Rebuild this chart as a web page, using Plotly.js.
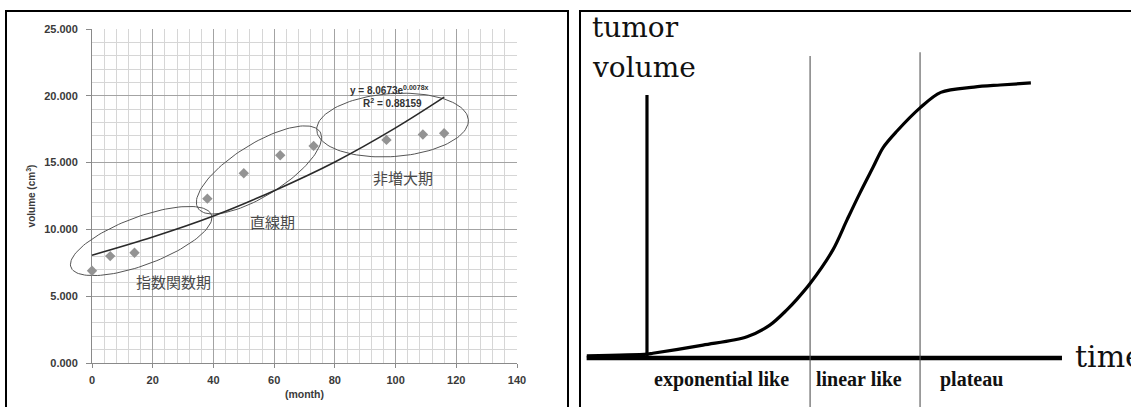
<!DOCTYPE html>
<html>
<head>
<meta charset="utf-8">
<script src="https://cdn.plot.ly/plotly-3.0.1.min.js"></script>
<style>
  html, body { margin: 0; padding: 0; background: #fff; }
  #chart { width: 1131px; height: 407px; }
</style>
</head>
<body>
<div id="chart"></div>
<script>
// ---------- Left panel data (volume vs month) ----------
const months = [0, 6, 14, 38, 50, 62, 73, 97, 109, 116];
const volumes = [6.9, 8.0, 8.25, 12.3, 14.2, 15.55, 16.25, 16.7, 17.1, 17.2];
// exponential trendline
const trendMonths = [0, 20, 40, 60, 80, 100, 116];
const trendVolumes = [8.07, 9.43, 11.0, 12.9, 15.05, 17.6, 19.9];
const phaseLabelsJa = ['指数関数期', '直線期', '非増大期'];
const equationText = 'y = 8.0673e<sup>0.0078x</sup>';
const r2Text = 'R<sup>2</sup> = 0.88159';

// ---------- Right panel data (schematic growth curve) ----------
const curveTime = [-14.5, 0, 1.4, 13.5, 24.1, 29.6, 33.7, 36.1, 39.3, 44.8, 48.2, 51.3, 54.5, 56.9, 60.2, 65.8, 70.8, 78.8, 85.1, 92.5];
const curveVolume = [0.8, 1.5, 1.8, 4.9, 8.1, 12.5, 18.3, 22.3, 28.3, 41.1, 52.5, 62.7, 72.6, 80.0, 86.2, 95.1, 101.0, 103.0, 103.8, 104.6];
const phaseBoundaries = [39.3, 65.8];
const boundaryTops = [114.8, 116.3];
const phaseNames = ['exponential like', 'linear like', 'plateau'];

// ---------- Layout geometry ----------
const W = 1131, H = 407;
const leftDomX = [92 / W, 517 / W];
const leftDomY = [(H - 363) / H, (H - 29) / H];
const xRange = [0, 140], yRange = [0, 25];
const rightDomX = [580 / W, 1];
const x2Range = [-16.14, 116.63], y2Range = [-18.63, 136.12];

// pixel scale of the left plot
const sx = (leftDomX[1] - leftDomX[0]) * W / (xRange[1] - xRange[0]);
const sy = (leftDomY[1] - leftDomY[0]) * H / (yRange[1] - yRange[0]);
// overlay axes spanning the whole left panel, same data scale (so marks near edges are not clipped)
const panelLeft = 6, panelRight = 568, panelTop = 11;
const x3Dom = [panelLeft / W, panelRight / W];
const y3Dom = [0, (H - panelTop) / H];
const x3Range = [(panelLeft - 92) / sx, (panelRight - 92) / sx];
const y3Range = [(363 - H) / sy, (363 - panelTop) / sy];

// ellipse outlines: centre in data units, semi-axes in px, tilt in degrees
const ellipses = [
  {cx: 16.2, cy: 9.13, a: 75, b: 24, ang: 20.5},
  {cx: 55.0, cy: 14.45, a: 72, b: 26, ang: 32},
  {cx: 99.0, cy: 17.81, a: 76, b: 31.5, ang: 4}
];
function ellipseTrace(e) {
  const xs = [], ys = [];
  const t = e.ang * Math.PI / 180;
  for (let i = 0; i <= 120; i++) {
    const p = 2 * Math.PI * i / 120;
    const dx = e.a * Math.cos(p) * Math.cos(t) - e.b * Math.sin(p) * Math.sin(t);
    const dy = e.a * Math.cos(p) * Math.sin(t) + e.b * Math.sin(p) * Math.cos(t);
    xs.push(e.cx + dx / sx);
    ys.push(e.cy + dy / sy);
  }
  return {x: xs, y: ys, type: 'scatter', mode: 'lines', xaxis: 'x3', yaxis: 'y3',
          line: {color: '#555', width: 1}, hoverinfo: 'skip', showlegend: false};
}

const traces = [];
ellipses.forEach(e => traces.push(ellipseTrace(e)));
traces.push({
  x: trendMonths, y: trendVolumes, type: 'scatter', mode: 'lines',
  line: {color: '#2a2a2a', width: 1.6, shape: 'spline'}, xaxis: 'x3', yaxis: 'y3', showlegend: false
});
traces.push({
  x: months, y: volumes, type: 'scatter', mode: 'markers',
  marker: {symbol: 'diamond', size: 8, color: '#939393'}, xaxis: 'x3', yaxis: 'y3', showlegend: false
});

// right panel
traces.push({x: [x2Range[0] + 1.6, 100], y: [0, 0], type: 'scatter', mode: 'lines',
  line: {color: '#000', width: 4.5}, xaxis: 'x2', yaxis: 'y2', showlegend: false, hoverinfo: 'skip'});
traces.push({x: [0, 0], y: [0, 100], type: 'scatter', mode: 'lines',
  line: {color: '#000', width: 3.2}, xaxis: 'x2', yaxis: 'y2', showlegend: false, hoverinfo: 'skip'});
phaseBoundaries.forEach((b, i) => traces.push({
  x: [b, b], y: [y2Range[0], boundaryTops[i]], type: 'scatter', mode: 'lines',
  line: {color: '#555', width: 1.1}, xaxis: 'x2', yaxis: 'y2', showlegend: false, hoverinfo: 'skip'}));
traces.push({x: curveTime, y: curveVolume, type: 'scatter', mode: 'lines',
  line: {color: '#000', width: 3.2, shape: 'spline', smoothing: 0.9}, xaxis: 'x2', yaxis: 'y2', showlegend: false});

const sans = 'Liberation Sans, Arial, sans-serif';
const tickFont = {family: sans, size: 11, color: '#3a3a3a', weight: 'bold'};
const jaFont = {family: 'Noto Sans CJK JP', size: 15, color: '#4a4a4a'};
const serif = 'Liberation Serif, Times New Roman, serif';
const bigSerif = 'DejaVu Serif, serif';

const phaseLabelPos = [[26.8, 6.09], [59.3, 10.58], [102.4, 13.85]];
const phaseNamePos = [18.0, 51.1, 78.2];

const annotations = [];
phaseLabelsJa.forEach((t, i) => annotations.push({
  x: phaseLabelPos[i][0], y: phaseLabelPos[i][1], xref: 'x', yref: 'y', text: t,
  showarrow: false, font: jaFont, xanchor: 'center', yanchor: 'middle'}));
annotations.push({x: 98.0, y: 20.4, xref: 'x', yref: 'y', text: equationText, showarrow: false,
  font: {family: sans, size: 10, color: '#333', weight: 'bold'}});
annotations.push({x: 99.0, y: 19.45, xref: 'x', yref: 'y', text: r2Text, showarrow: false,
  font: {family: sans, size: 10, color: '#333', weight: 'bold'}});
phaseNames.forEach((t, i) => annotations.push({
  x: phaseNamePos[i], y: -8.0, xref: 'x2', yref: 'y2', text: t, showarrow: false,
  font: {family: serif, size: 20, color: '#111', weight: 'bold'}, xanchor: 'center', yanchor: 'middle'}));
annotations.push({x: -13.8, y: 125.8, xref: 'x2', yref: 'y2', text: 'tumor', showarrow: false,
  font: {family: bigSerif, size: 28, color: '#111'}, xanchor: 'left', yanchor: 'middle'});
annotations.push({x: -13.8, y: 110.4, xref: 'x2', yref: 'y2', text: 'volume', showarrow: false,
  font: {family: bigSerif, size: 28, color: '#111'}, xanchor: 'left', yanchor: 'middle'});
annotations.push({x: 102.6, y: 0.6, xref: 'x2', yref: 'y2', text: 'time', showarrow: false,
  font: {family: bigSerif, size: 30, color: '#111'}, xanchor: 'left', yanchor: 'middle'});

const layout = {
  width: W, height: H,
  margin: {l: 0, r: 0, t: 0, b: 0},
  paper_bgcolor: '#fff', plot_bgcolor: 'rgba(0,0,0,0)',
  showlegend: false,
  xaxis: {
    domain: leftDomX, range: xRange, tick0: 0, dtick: 20, anchor: 'y',
    showgrid: true, gridcolor: '#a3a3a3', gridwidth: 1,
    minor: {dtick: 4, showgrid: true, gridcolor: '#d6d6d6', gridwidth: 1},
    zeroline: false, showline: true, linecolor: '#8a8a8a', linewidth: 1,
    ticks: 'outside', ticklen: 4, tickcolor: '#8a8a8a', ticklabelstandoff: 3,
    tickfont: tickFont,
    title: {text: '(month)', font: {family: sans, size: 10.5, color: '#3a3a3a', weight: 'bold'}, standoff: 5}
  },
  yaxis: {
    domain: leftDomY, range: yRange, tick0: 0, dtick: 5, tickformat: '.3f', anchor: 'x',
    showgrid: true, gridcolor: '#a3a3a3', gridwidth: 1,
    minor: {dtick: 1, showgrid: true, gridcolor: '#d6d6d6', gridwidth: 1},
    zeroline: false, showline: true, linecolor: '#8a8a8a', linewidth: 1,
    ticks: 'outside', ticklen: 5, tickcolor: '#8a8a8a', ticklabelstandoff: 6,
    tickfont: tickFont,
    title: {text: 'volume (cm<sup>3</sup>)', font: {family: sans, size: 10, color: '#3a3a3a', weight: 'bold'}, standoff: 6}
  },
  xaxis2: {domain: rightDomX, range: x2Range, anchor: 'y2', visible: false, fixedrange: true},
  yaxis2: {domain: [0, 1], range: y2Range, anchor: 'x2', visible: false, fixedrange: true},
  xaxis3: {domain: x3Dom, range: x3Range, anchor: 'y3', visible: false, fixedrange: true},
  yaxis3: {domain: y3Dom, range: y3Range, anchor: 'x3', visible: false, fixedrange: true},
  annotations: annotations,
  shapes: [
    {type: 'rect', xref: 'paper', yref: 'paper', x0: panelLeft / W, x1: panelRight / W, y0: -0.02, y1: (H - panelTop) / H,
     line: {color: '#000', width: 2}, layer: 'above'},
    {type: 'rect', xref: 'paper', yref: 'paper', x0: 580 / W, x1: 1.02, y0: -0.02, y1: (H - panelTop) / H,
     line: {color: '#000', width: 2}, layer: 'above'}
  ]
};

Plotly.newPlot('chart', traces, layout, {staticPlot: true, displayModeBar: false});
</script>
</body>
</html>
